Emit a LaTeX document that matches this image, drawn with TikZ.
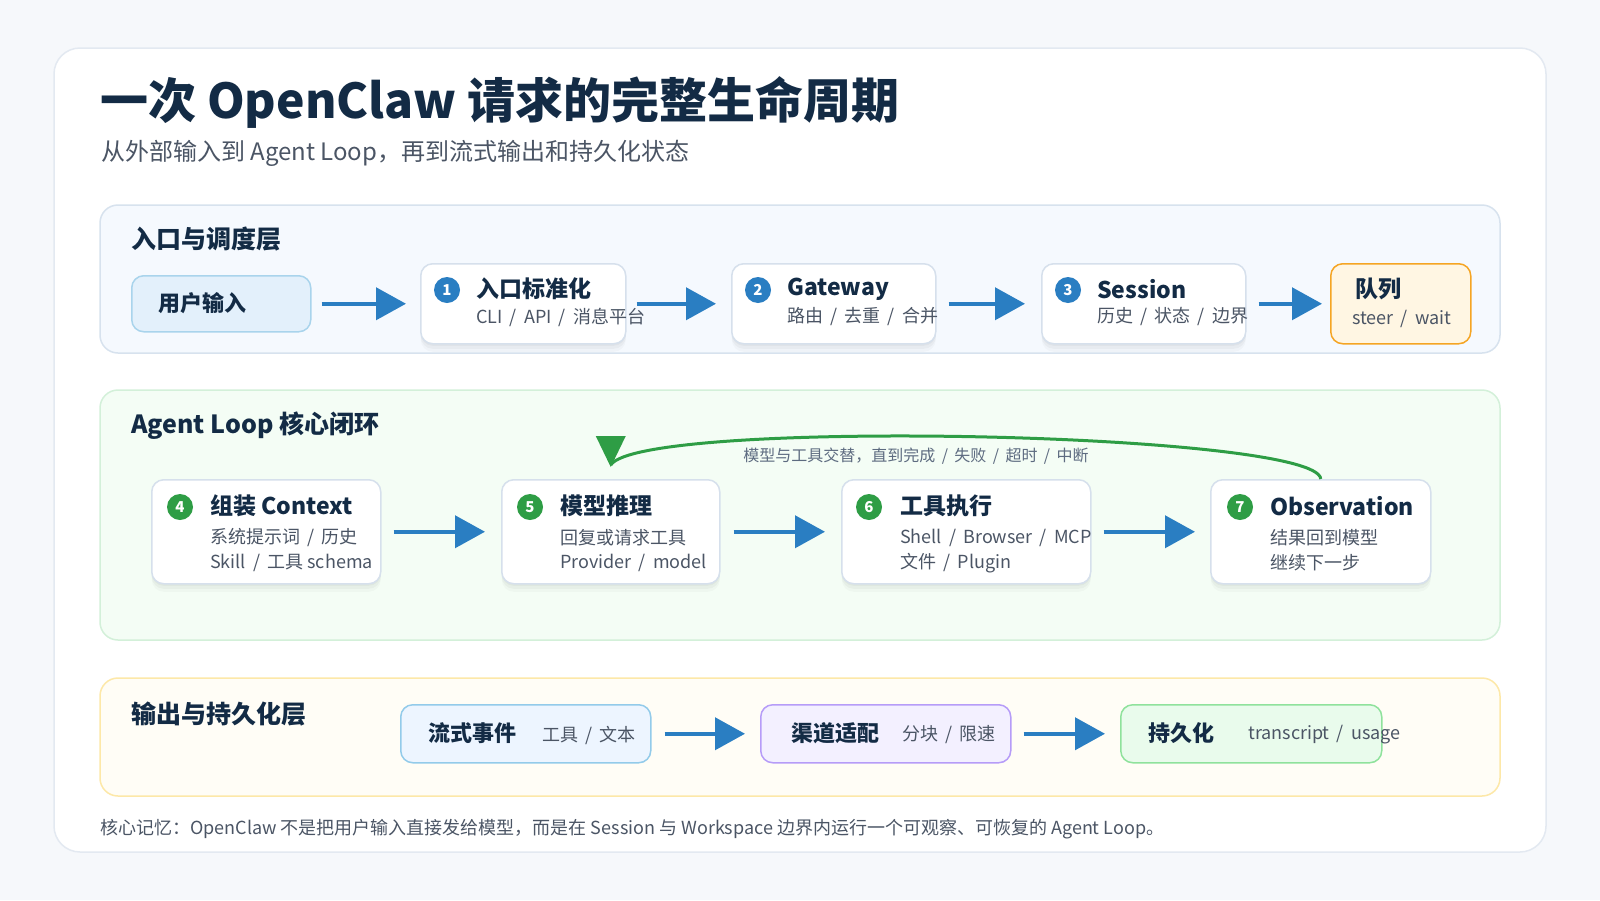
\documentclass[tikz,border=0pt]{standalone}
\usepackage{fontspec}
\setmainfont{Noto Sans CJK SC}
\usetikzlibrary{arrows.meta,shadows}
\newcommand\fsz[1]{\fontsize{#1}{#1}\selectfont}
\newcommand\slh{\hspace{0.4em}/\hspace{0.4em}}
\definecolor{pagebg}{HTML}{F6F8FB}
\definecolor{cardedge}{HTML}{E3E9F1}
\definecolor{ink}{HTML}{132B45}
\definecolor{subink}{HTML}{4B5565}
\definecolor{blueA}{HTML}{2A7EC2}
\definecolor{greenA}{HTML}{2E9D45}
\definecolor{boxline}{HTML}{D6E0EC}
\definecolor{p1fill}{HTML}{F5F9FE}
\definecolor{p1line}{HTML}{D7E2EE}
\definecolor{p2fill}{HTML}{F4FDF5}
\definecolor{p2line}{HTML}{D3F0D9}
\definecolor{p3fill}{HTML}{FFFDF6}
\definecolor{p3line}{HTML}{FDE8A8}
\definecolor{userfill}{HTML}{E3F0FB}
\definecolor{userline}{HTML}{A9D4EC}
\definecolor{qfill}{HTML}{FFF6E3}
\definecolor{qline}{HTML}{F5A524}
\definecolor{sfill}{HTML}{EDF5FF}
\definecolor{sline}{HTML}{93CBEA}
\definecolor{cfill}{HTML}{F3F0FF}
\definecolor{cline}{HTML}{B69CF8}
\definecolor{pfill}{HTML}{E9FBEC}
\definecolor{pline}{HTML}{8FE29C}
\definecolor{looptext}{HTML}{5D6B80}
\begin{document}
\begin{tikzpicture}[x=1pt,y=-1pt,
  txt/.style={inner sep=0pt, anchor=west, text=ink},
  ttl/.style={txt, font=\fsz{23}\bfseries},
  sub/.style={txt, text=subink, font=\fsz{18}},
  lbl/.style={txt, font=\fsz{25}\bfseries},
  panel/.style={rounded corners=18pt, line width=1.5pt},
  box/.style={anchor=north west, rounded corners=12pt, line width=1.5pt, inner sep=0pt},
  card/.style={box, draw=boxline, fill=white,
    drop shadow={shadow xshift=0pt, shadow yshift=-2pt, opacity=0.03, fill=black},
    drop shadow={shadow xshift=0pt, shadow yshift=-5pt, opacity=0.03, fill=black},
    drop shadow={shadow xshift=0pt, shadow yshift=-8pt, opacity=0.025, fill=black}},
  badge/.style={circle, fill=#1, minimum size=26pt, inner sep=0pt, text=white, font=\fsz{15}\bfseries},
  arr/.style={line width=4pt, draw=blueA, -{Triangle[length=30pt,width=32pt]}},
  loopline/.style={line width=3pt, draw=greenA}
]
\useasboundingbox (0,0) rectangle (1600,900);
\fill[pagebg] (0,0) rectangle (1600,900);
\draw[cardedge, fill=white, line width=1.5pt, rounded corners=26pt] (54,48) rectangle (1546,852);

% title
\node[txt, font=\fsz{48}\bfseries] (title) at (100,102) {一次 OpenClaw 请求的完整生命周期};
\node[txt, text=subink, font=\fsz{24}] (subtitle) at (101,153) {从外部输入到 Agent Loop，再到流式输出和持久化状态};

% panels
\draw[panel, draw=p1line, fill=p1fill] (100,205) rectangle (1500,353);
\draw[panel, draw=p2line, fill=p2fill] (100,390) rectangle (1500,640);
\draw[panel, draw=p3line, fill=p3fill] (100,678) rectangle (1500,796);
\node[lbl] (l1) at (131,239) {入口与调度层};
\node[lbl] (l2) at (131,426) {Agent Loop 核心闭环};
\node[lbl] (l3) at (131,714) {输出与持久化层};

% row 1
\node[box, draw=userline, fill=userfill, minimum width=179pt, minimum height=56pt] (u) at (131,275) {};
\node[ttl, font=\fsz{22}\bfseries] (ut) at (158,303) {用户输入};

\node[card, minimum width=205pt, minimum height=80pt] (n1) at (420,263) {};
\node[badge=blueA] (b1) at (447,290) {1};
\node[ttl] (t1) at (476,289) {入口标准化};
\node[sub] (s1) at (476,317) {CLI\slh API\slh 消息平台};

\node[card, minimum width=204pt, minimum height=80pt] (n2) at (731,263) {};
\node[badge=blueA] (b2) at (758,290) {2};
\node[ttl] (t2) at (787,289) {Gateway};
\node[sub] (s2) at (787,317) {路由\slh 去重\slh 合并};

\node[card, minimum width=204pt, minimum height=80pt] (n3) at (1041,263) {};
\node[badge=blueA] (b3) at (1068,290) {3};
\node[ttl] (t3) at (1097,289) {Session};
\node[sub] (s3) at (1097,317) {历史\slh 状态\slh 边界};

\node[box, draw=qline, fill=qfill, minimum width=140pt, minimum height=80pt] (q) at (1330,263) {};
\node[ttl] (qt) at (1355,289) {队列};
\node[sub] (qs) at (1352,319) {steer\slh wait};

\draw[arr] ([xshift=10pt]u.east) -- ([xshift=-14pt]n1.west);
\draw[arr] ([xshift=10pt]n1.east) -- ([xshift=-15pt]n2.west);
\draw[arr] ([xshift=12pt]n2.east) -- ([xshift=-16pt]n3.west);
\draw[arr] ([xshift=12pt]n3.east) -- ([xshift=-8pt]q.west);

% row 2
\node[card, minimum width=229pt, minimum height=104pt] (n4) at (151,479) {};
\node[badge=greenA] (b4) at (180,507) {4};
\node[ttl] (t4) at (210,506) {组装 Context};
\node[sub] (s4a) at (210,538) {系统提示词\slh 历史};
\node[sub] (s4b) at (210,563) {Skill\slh 工具 schema};

\node[card, minimum width=218pt, minimum height=104pt] (n5) at (501,479) {};
\node[badge=greenA] (b5) at (530,507) {5};
\node[ttl] (t5) at (560,506) {模型推理};
\node[sub] (s5a) at (560,538) {回复或请求工具};
\node[sub] (s5b) at (560,563) {Provider\slh model};

\node[card, minimum width=249pt, minimum height=104pt] (n6) at (841,479) {};
\node[badge=greenA] (b6) at (869,507) {6};
\node[ttl] (t6) at (900,506) {工具执行};
\node[sub] (s6a) at (900,538) {Shell\slh Browser\slh MCP};
\node[sub] (s6b) at (900,563) {文件\slh Plugin};

\node[card, minimum width=220pt, minimum height=104pt] (n7) at (1210,479) {};
\node[badge=greenA] (b7) at (1240,507) {7};
\node[ttl] (t7) at (1270,506) {Observation};
\node[sub] (s7a) at (1270,538) {结果回到模型};
\node[sub] (s7b) at (1270,563) {继续下一步};

\draw[arr] ([xshift=12pt]n4.east) -- ([xshift=-16pt]n5.west);
\draw[arr] ([xshift=13pt]n5.east) -- ([xshift=-16pt]n6.west);
\draw[arr] ([xshift=12pt]n6.east) -- ([xshift=-15pt]n7.west);

% loop back connector
\draw[loopline] (n7.north) .. controls (1318,432) and (640,418) .. ([yshift=14pt]n5.north);
\fill[greenA] ([xshift=-15pt,yshift=43pt]n5.north) -- ([xshift=15pt,yshift=43pt]n5.north) -- ([yshift=12pt]n5.north) -- cycle;
\node[inner sep=0pt, text=looptext, font=\fsz{16}] (looplbl) at (916,456) {模型与工具交替，直到完成\slh 失败\slh 超时\slh 中断};

% row 3
\node[box, draw=sline, fill=sfill, minimum width=250pt, minimum height=58pt] (r1) at (400,704) {};
\node[ttl, font=\fsz{22}\bfseries] (r1t) at (428,733) {流式事件};
\node[sub] (r1s) at (542,735) {工具\slh 文本};

\node[box, draw=cline, fill=cfill, minimum width=250pt, minimum height=58pt] (r2) at (760,704) {};
\node[ttl, font=\fsz{22}\bfseries] (r2t) at (791,733) {渠道适配};
\node[sub] (r2s) at (902,735) {分块\slh 限速};

\node[box, draw=pline, fill=pfill, minimum width=261pt, minimum height=58pt] (r3) at (1120,704) {};
\node[ttl, font=\fsz{22}\bfseries] (r3t) at (1148,733) {持久化};
\node[sub] (r3s) at (1248,735) {transcript\slh usage};

\draw[arr] ([xshift=13pt]r1.east) -- ([xshift=-15pt]r2.west);
\draw[arr] ([xshift=12pt]r2.east) -- ([xshift=-15pt]r3.west);

% footer
\node[txt, text=subink, font=\fsz{18}] (foot) at (100,829) {核心记忆：OpenClaw 不是把用户输入直接发给模型，而是在 Session 与 Workspace 边界内运行一个可观察、可恢复的 Agent Loop。};
\end{tikzpicture}
\end{document}
